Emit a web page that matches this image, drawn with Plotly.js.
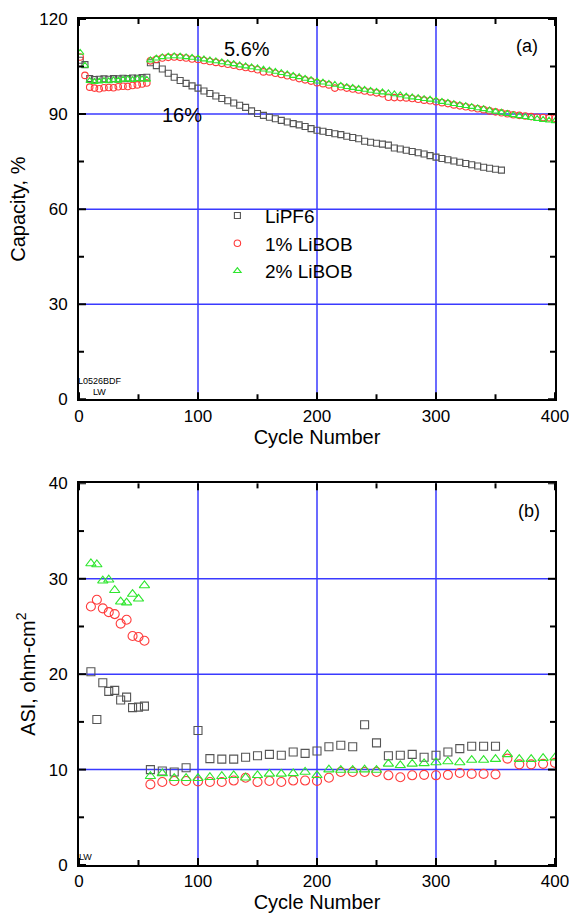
<!DOCTYPE html>
<html>
<head>
<meta charset="utf-8">
<script src="https://cdn.plot.ly/plotly-3.0.1.min.js"></script>
<style>html,body{margin:0;padding:0;background:#fff}#chart{width:569px;height:921px}</style>
</head>
<body>
<div id="chart"></div>
<script>
// ---------- (a) Capacity vs cycle ----------
const capCycleLiPF6 = [1,5,9,13,17,21,25,29,33,37,41,45,49,53,57,
  60,65,70,75,80,85,90,95,100,105,110,115,120,125,130,135,140,145,150,155,160,165,170,175,180,185,190,195,200,
  205,210,215,220,225,230,235,240,245,250,255,260,265,270,275,280,285,290,295,300,305,310,315,320,325,330,335,340,345,350,355];
const capLiPF6 = [107.0,105.6,101.2,100.9,101.0,101.1,101.0,101.2,101.1,101.3,101.2,101.4,101.3,101.5,101.6,
  106.2,105.3,104.2,102.9,101.6,100.6,99.7,98.9,98.2,97.3,96.5,95.7,94.9,94.2,93.5,92.8,92.1,91.0,90.2,89.6,89.0,88.5,88.0,87.5,87.0,86.6,86.1,85.4,84.9,
  84.6,84.2,83.8,83.5,83.0,82.6,82.2,81.4,81.1,80.8,80.5,80.2,79.3,79.0,78.6,78.2,77.8,77.4,76.9,76.4,76.0,75.6,75.2,74.8,74.4,74.0,73.6,73.2,72.9,72.6,72.3];
const capCycleLiBOB = [1,5,9,13,17,21,25,29,33,37,41,45,49,53,57,
  60,65,70,75,80,85,90,95,100,105,110,115,120,125,130,135,140,145,150,155,160,165,170,175,180,185,190,195,200,
  205,210,215,220,225,230,235,240,245,250,255,260,265,270,275,280,285,290,295,300,305,310,315,320,325,330,335,340,345,350,355,
  360,365,370,375,380,385,390,395,400];
const capLiBOB1 = [108.0,102.2,98.5,98.2,98.0,98.3,98.4,98.3,98.6,98.8,98.7,99.0,99.2,99.5,99.8,
  106.8,107.3,107.7,107.9,108.0,107.9,107.7,107.4,107.2,106.9,106.6,106.3,106.0,105.7,105.4,105.0,104.7,104.4,104.0,103.3,103.3,102.9,102.5,102.1,101.7,101.2,100.8,100.4,99.9,
  99.6,99.2,98.2,98.6,98.2,97.9,97.6,97.3,97.0,96.7,96.4,95.3,95.2,95.2,95.1,94.9,94.7,94.4,94.2,93.9,93.6,93.3,92.9,92.6,92.3,92.0,91.7,91.4,91.0,90.7,90.4,
  90.1,89.8,89.6,89.4,89.2,89.0,88.9,88.8,88.7];
const capLiBOB2 = [109.4,105.3,100.5,100.2,100.3,100.5,100.4,100.7,100.6,100.9,101.0,100.8,101.1,101.0,100.9,
  107.0,107.6,108.0,108.2,108.3,108.2,108.0,107.8,107.6,107.3,107.0,106.7,106.4,106.1,105.8,105.4,105.1,104.8,104.5,104.1,103.8,103.4,103.0,102.6,102.1,101.7,101.2,100.8,100.3,
  100.0,99.6,99.3,99.0,98.6,98.3,98.0,97.7,97.4,97.1,96.9,96.6,96.3,96.0,95.6,95.3,95.1,94.8,94.6,94.3,93.9,93.6,93.2,92.9,92.6,92.3,91.9,91.6,91.2,90.8,90.5,
  90.1,89.7,89.4,89.1,88.8,88.5,88.2,88.0,87.8];

// ---------- (b) ASI vs cycle ----------
const asiCycleLiPF6 = [10,15,20,25,30,35,40,45,50,55,
  60,70,80,90,100,110,120,130,140,150,160,170,180,190,200,210,220,230,240,250,260,270,280,290,300,310,320,330,340,350];
const asiLiPF6 = [20.25,15.25,19.1,18.2,18.3,17.3,17.6,16.5,16.55,16.65,
  10.0,9.85,9.75,10.2,14.1,11.15,11.1,11.1,11.3,11.45,11.6,11.5,11.85,11.7,11.95,12.4,12.55,12.4,14.7,12.8,11.45,11.5,11.6,11.3,11.5,11.85,12.2,12.45,12.45,12.45];
const asiCycleLiBOB = [10,15,20,25,30,35,40,45,50,55,
  60,70,80,90,100,110,120,130,140,150,160,170,180,190,200,210,220,230,240,250,260,270,280,290,300,310,320,330,340,350,360,370,380,390,400];
const asiLiBOB1 = [27.1,27.8,26.9,26.5,26.3,25.3,25.7,24.0,23.9,23.5,
  8.45,8.7,8.8,8.8,8.75,8.7,8.7,8.85,9.15,8.7,8.8,8.7,8.85,8.85,8.8,9.15,9.75,9.75,9.75,9.75,9.4,9.2,9.4,9.45,9.4,9.45,9.65,9.55,9.55,9.5,11.15,10.55,10.55,10.6,10.7];
const asiLiBOB2 = [31.6,31.5,29.8,29.9,28.8,27.6,27.5,28.4,27.9,29.3,
  9.3,9.6,9.1,9.1,9.1,9.2,9.3,9.4,9.15,9.4,9.55,9.55,9.6,9.75,9.4,10.0,9.95,9.95,10.0,9.95,10.6,10.45,10.6,10.65,10.75,10.85,10.75,11.0,11.0,11.1,11.6,11.1,11.1,11.2,11.25];

const seriesNames = ['LiPF6','1% LiBOB','2% LiBOB'];

// axis tick values
const cycleTicks = [0,100,200,300,400];
const capTicks = [0,30,60,90,120];
const asiTicks = [0,10,20,30,40];

const FONT = 'Liberation Sans, Arial, Helvetica, sans-serif';
const cGray = '#555555', cRed = '#ff3b3b', cGrid = '#3a3aff', cGreen = '#2ee62e';

const W = 569, H = 921, M = {l: 79, r: 14, t: 19, b: 56};
const domTop = [0.5505, 1], domBot = [0, 0.4511];
const plotW = W - M.l - M.r, plotH = H - M.t - M.b;

function mk(x, y, name, sym, color, size, xa, ya, show) {
  return {x: x, y: y, name: name, type: 'scatter', mode: 'markers',
    xaxis: xa, yaxis: ya, showlegend: show,
    marker: {symbol: sym, size: size, color: color, line: {color: color, width: 1.1}}};
}
const data = [
  mk(capCycleLiPF6, capLiPF6, seriesNames[0], 'square-open', cGray, 6, 'x', 'y', true),
  mk(capCycleLiBOB, capLiBOB1, seriesNames[1], 'circle-open', cRed, 6.5, 'x', 'y', true),
  mk(capCycleLiBOB, capLiBOB2, seriesNames[2], 'triangle-up-open', cGreen, 6.5, 'x', 'y', true),
  mk(asiCycleLiPF6, asiLiPF6, seriesNames[0], 'square-open', cGray, 8, 'x2', 'y2', false),
  mk(asiCycleLiBOB, asiLiBOB1, seriesNames[1], 'circle-open', cRed, 9, 'x2', 'y2', false),
  mk(asiCycleLiBOB, asiLiBOB2, seriesNames[2], 'triangle-up-open', cGreen, 9, 'x2', 'y2', false)
];

// grid lines and inward ticks built from the tick values (major + half-step minor)
const shapes = [];
function addGridTicks(xr, yr, xt, yt, dom) {
  const gl = {color: cGrid, width: 1.5};
  const tl = {color: '#000', width: 2};
  const hpx = (dom[1] - dom[0]) * plotH;     // subplot height in px
  const fx = px => px / plotW, fy = px => px / hpx;
  xt.slice(1, -1).forEach(v => shapes.push({type: 'line', layer: 'below', xref: xr, yref: yr + ' domain', x0: v, x1: v, y0: 0, y1: 1, line: gl}));
  yt.slice(1, -1).forEach(v => shapes.push({type: 'line', layer: 'below', xref: xr + ' domain', yref: yr, x0: 0, x1: 1, y0: v, y1: v, line: gl}));
  const xs = xt[1] - xt[0], ys = yt[1] - yt[0];
  xt.forEach(t => {
    [[t, 7], [t + xs / 2, 5]].forEach(([v, len]) => {
      if (v > xt[xt.length - 1]) return;
      shapes.push({type: 'line', xref: xr, yref: yr + ' domain', x0: v, x1: v, y0: 0, y1: fy(len), line: tl});
      shapes.push({type: 'line', xref: xr, yref: yr + ' domain', x0: v, x1: v, y0: 1, y1: 1 - fy(len), line: tl});
    });
  });
  yt.forEach(t => {
    [[t, 7], [t + ys / 2, 5]].forEach(([v, len]) => {
      if (v > yt[yt.length - 1]) return;
      shapes.push({type: 'line', xref: xr + ' domain', yref: yr, x0: 0, x1: fx(len), y0: v, y1: v, line: tl});
      shapes.push({type: 'line', xref: xr + ' domain', yref: yr, x0: 1, x1: 1 - fx(len), y0: v, y1: v, line: tl});
    });
  });
}
addGridTicks('x', 'y', cycleTicks, capTicks, domTop);
addGridTicks('x2', 'y2', cycleTicks, asiTicks, domBot);

const tfont = {family: FONT, size: 17, color: '#000'};
const ttl = (t, s) => ({text: t, font: {family: FONT, size: 20, color: '#000'}, standoff: s});
function mainAxis(extra) {
  return Object.assign({
    showline: true, linecolor: '#000', linewidth: 2, mirror: true, ticks: '',
    showgrid: false, zeroline: false, tickfont: tfont, ticklabeloverflow: 'allow', tickmode: 'array'
  }, extra);
}

const layout = {
  width: W, height: H,
  margin: M,
  paper_bgcolor: '#fff', plot_bgcolor: '#fff',
  font: {family: FONT, color: '#000'},
  xaxis: mainAxis({domain: [0, 1], anchor: 'y', range: [0, 400], tickvals: cycleTicks, title: ttl('Cycle Number', 4)}),
  yaxis: mainAxis({domain: domTop, anchor: 'x', range: [0, 120], tickvals: capTicks, title: ttl('Capacity, %', 8), ticklabelstandoff: 6}),
  xaxis2: mainAxis({domain: [0, 1], anchor: 'y2', range: [0, 400], tickvals: cycleTicks, title: ttl('Cycle Number', 4)}),
  yaxis2: mainAxis({domain: domBot, anchor: 'x2', range: [0, 40], tickvals: asiTicks, title: ttl('ASI, ohm-cm<sup>2</sup>', 8), ticklabelstandoff: 6}),
  shapes: shapes,
  showlegend: true,
  legend: {x: 0.275, y: 0.79, xanchor: 'left', yanchor: 'top', bgcolor: 'rgba(0,0,0,0)',
    font: {family: FONT, size: 19, color: '#000'}, itemwidth: 45, tracegroupgap: 0},
  annotations: [
    {xref: 'x', yref: 'y', x: 141, y: 110.6, text: '5.6%', showarrow: false, font: {family: FONT, size: 20, color: '#000'}},
    {xref: 'x', yref: 'y', x: 86.5, y: 89.8, text: '16%', showarrow: false, font: {family: FONT, size: 20, color: '#000'}},
    {xref: 'x', yref: 'y', x: 376.5, y: 111.6, text: '(a)', showarrow: false, font: {family: FONT, size: 18, color: '#000'}},
    {xref: 'x', yref: 'y', x: 17.6, y: 5.8, text: 'L0526BDF', showarrow: false, font: {family: FONT, size: 9, color: '#000'}},
    {xref: 'x', yref: 'y', x: 17.6, y: 2.3, text: 'LW', showarrow: false, font: {family: FONT, size: 9, color: '#000'}},
    {xref: 'x2', yref: 'y2', x: 378, y: 37.1, text: '(b)', showarrow: false, font: {family: FONT, size: 18, color: '#000'}},
    {xref: 'x2', yref: 'y2', x: 5.5, y: 0.8, text: 'LW', showarrow: false, font: {family: FONT, size: 9, color: '#000'}}
  ]
};
Plotly.newPlot('chart', data, layout, {displayModeBar: false, staticPlot: true});
</script>
</body>
</html>
